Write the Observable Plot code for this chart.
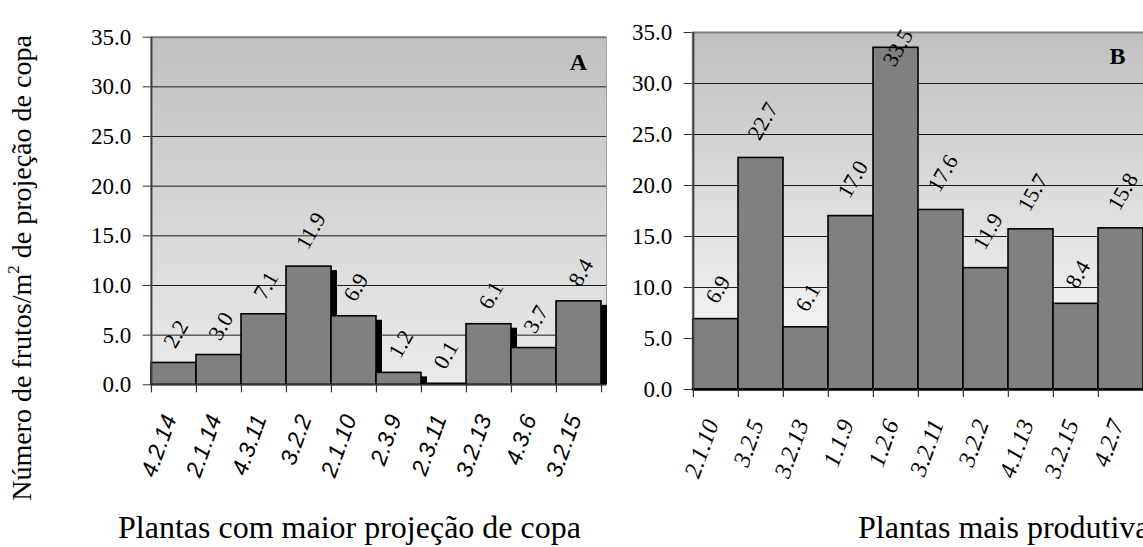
<!DOCTYPE html>
<html>
<head>
<meta charset="utf-8">
<script src="https://cdn.jsdelivr.net/npm/d3@7"></script>
<script src="https://cdn.jsdelivr.net/npm/@observablehq/plot@0.6"></script>
<style>
  html, body { margin: 0; padding: 0; background: #fff; overflow: hidden;
               font-family: 'Liberation Serif', serif; }
  #chart { position: relative; width: 1143px; height: 547px; overflow: hidden;
           font-family: 'Liberation Serif', serif; color: #000; }
  .panel { position: absolute; top: 0; }
  .ytitle { position: absolute; left: 22px; top: 268px; font-size: 28px; line-height: 1;
            font-family: 'Liberation Serif', serif;
            white-space: nowrap; transform: translate(-50%, -50%) rotate(-90deg); }
  .ytitle sup { font-size: 17px; vertical-align: 0; position: relative; top: -12px; }
  .xtitle { position: absolute; top: 527px; font-size: 32px; line-height: 1;
            font-family: 'Liberation Serif', serif;
            white-space: nowrap; transform: translateY(-50%); }
</style>
</head>
<body>
<div id="chart">
  <div class="ytitle">Número de frutos/m<sup>2</sup> de projeção de copa</div>
  <div class="xtitle" style="left:118px">Plantas com maior projeção de copa</div>
  <div class="xtitle" style="left:858px">Plantas mais produtivas</div>
</div>
<script>
// Fruits per m² of canopy projection, per plant
const catsA = ["4.2.14", "2.1.14", "4.3.11", "3.2.2", "2.1.10", "2.3.9", "2.3.11", "3.2.13", "4.3.6", "3.2.15"];
const valsA = [2.2, 3.0, 7.1, 11.9, 6.9, 1.2, 0.1, 6.1, 3.7, 8.4];

const catsB = ["2.1.10", "3.2.5", "3.2.13", "1.1.9", "1.2.6", "3.2.11", "3.2.2", "4.1.13", "3.2.15", "4.2.7"];
const valsB = [6.9, 22.7, 6.1, 17.0, 33.5, 17.6, 11.9, 15.7, 8.4, 15.8];

const yTicks = [0, 5, 10, 15, 20, 25, 30, 35];
const gridTicks = [5, 10, 15, 20, 25, 30];
const yMax = 35;

const SERIF = "Liberation Serif";
const SANS = "Liberation Sans";

function panel(cfg) {
  const data = cfg.cats.map((c, i) => ({c, v: cfg.vals[i]}));
  const bw = (cfg.xRange[1] - cfg.xRange[0]) / cfg.cats.length;
  const fmt = d3.format(".1f");
  // distance (in data units) from bar top to the centre of its rotated value label
  const off = d => (fmt(d.v).length > 3 ? 3.6 : 2.9);

  const marks = [
    Plot.frame({fill: `url(#${cfg.id})`, stroke: "#a0a0a0", strokeWidth: 1}),
    Plot.gridY(gridTicks, {stroke: "#1a1a1a", strokeOpacity: 1, strokeWidth: 1}),
    Plot.ruleY([yMax], {stroke: "#808080", strokeWidth: 2})
  ];
  if (cfg.shadow) {
    marks.push(Plot.barY(data, {x: "c", y: "v", dx: 6, dy: 4, insetBottom: 4, fill: "#000"}));
  }
  marks.push(
    Plot.barY(data, {x: "c", y: "v", fill: "#808080", stroke: "#000", strokeWidth: 1.6}),
    // left axis line and x axis line
    Plot.ruleX([cfg.cats[0]], {dx: -bw / 2, stroke: "#404040", strokeWidth: 2}),
    Plot.ruleY([0], {stroke: cfg.axisColor, strokeWidth: cfg.axisWidth}),
    // category boundary ticks
    Plot.ruleX(cfg.cats, {x: d => d, y1: 0, y2: 0, dx: -bw / 2, insetBottom: -8, stroke: "#333", strokeWidth: 1.2}),
    Plot.ruleX([cfg.cats[cfg.cats.length - 1]], {y1: 0, y2: 0, dx: bw / 2, insetBottom: -8, stroke: "#333", strokeWidth: 1.2}),
    Plot.axisY(yTicks, {tickFormat: fmt, tickSize: 8, tickPadding: 12, fontSize: 23,
                        fontFamily: SERIF, stroke: "#333", label: null}),
    // value labels
    Plot.text(data, {
      x: "c",
      y: d => (d.v + off(d) > yMax ? d.v : d.v + off(d)),
      text: d => fmt(d.v),
      rotate: -60, dx: 2, fontSize: 22, fontFamily: SERIF,
      textAnchor: "middle", lineAnchor: "middle", fill: "#000"
    }),
    // category labels
    Plot.text(cfg.cats, {
      x: d => d, frameAnchor: "bottom", rotate: -70,
      textAnchor: "end", lineAnchor: "middle", dx: -4, dy: 31,
      fontSize: cfg.tickSize, fontStyle: "italic", fontFamily: cfg.tickFont, fill: "#000"
    }),
    // panel letter
    Plot.text([cfg.letter], {
      frameAnchor: "top-right", dx: cfg.letterDx, dy: cfg.letterDy,
      textAnchor: "middle", lineAnchor: "middle", fontSize: 24, fontWeight: "bold",
      fontFamily: SERIF, fill: "#000"
    })
  );

  const svg = Plot.plot({
    width: cfg.width, height: 547,
    marginLeft: cfg.frame[0], marginRight: cfg.width - cfg.frame[1],
    marginTop: cfg.top, marginBottom: 547 - cfg.bottom,
    style: {background: "transparent", maxWidth: "none", overflow: "visible",
            fontFamily: SERIF, fontSize: "23px", color: "#000"},
    x: {type: "band", domain: cfg.cats, range: cfg.xRange, padding: 0, axis: null},
    y: {domain: [0, yMax], axis: null},
    marks
  });

  const grad = d3.select(svg).insert("defs", ":first-child")
    .append("linearGradient").attr("id", cfg.id)
    .attr("x1", 0).attr("y1", 0).attr("x2", 0).attr("y2", 1);
  grad.append("stop").attr("offset", 0).attr("stop-color", "#c0c0c0");
  grad.append("stop").attr("offset", 1).attr("stop-color", cfg.bottomColor);

  const div = document.createElement("div");
  div.className = "panel";
  div.style.left = cfg.left + "px";
  div.style.width = cfg.width + "px";
  div.appendChild(svg);
  document.getElementById("chart").appendChild(div);
}

panel({
  id: "bgA", cats: catsA, vals: valsA, left: 0, width: 620,
  frame: [150.7, 606], xRange: [150.7, 601.7], top: 36.7, bottom: 384.3,
  shadow: true, axisColor: "#333", axisWidth: 1.6,
  tickFont: SANS, tickSize: 23,
  letter: "A", letterDx: -28, letterDy: 25, bottomColor: "#ebebeb"
});

panel({
  id: "bgB", cats: catsB, vals: valsB, left: 600, width: 560,
  frame: [91.7, 546], xRange: [91.7, 544.7], top: 32, bottom: 389,
  shadow: false, axisColor: "#000", axisWidth: 2.6,
  tickFont: SERIF, tickSize: 24,
  letter: "B", letterDx: -29, letterDy: 24, bottomColor: "#fdfdfd"
});
</script>
</body>
</html>
